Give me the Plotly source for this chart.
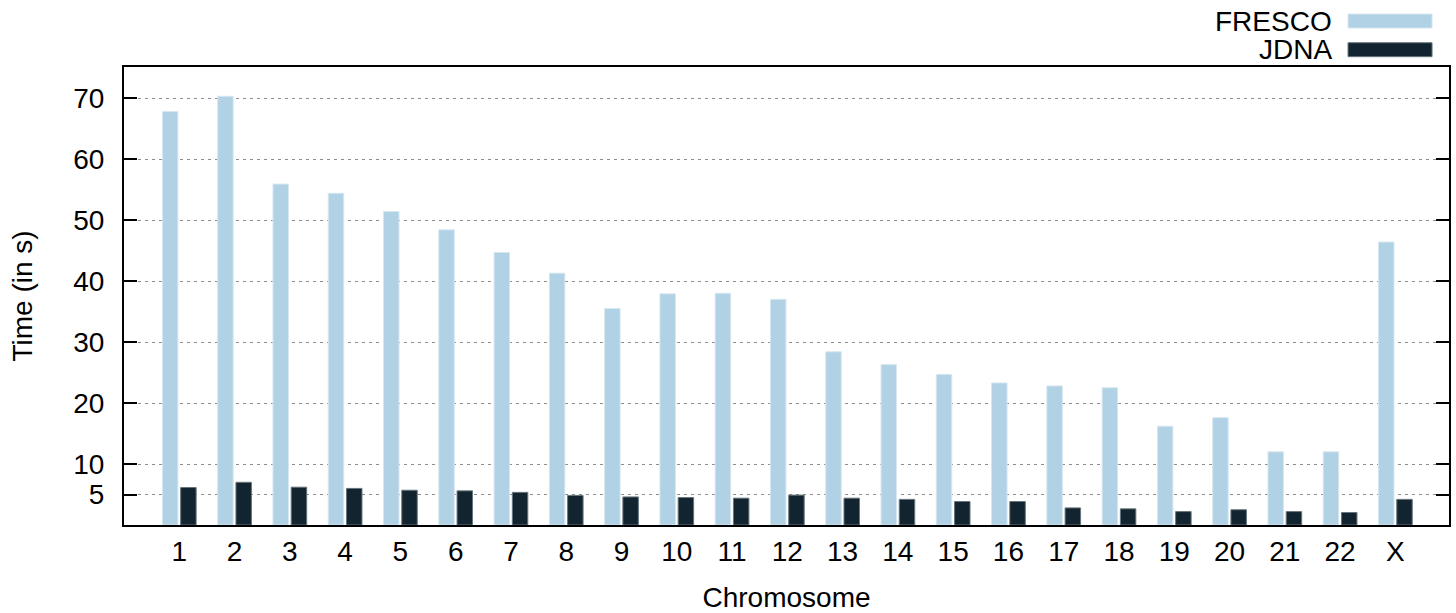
import plotly.graph_objects as go

# Chromosome run times (seconds)
chromosomes = ["1", "2", "3", "4", "5", "6", "7", "8", "9", "10", "11", "12",
               "13", "14", "15", "16", "17", "18", "19", "20", "21", "22", "X"]
fresco_time = [67.8, 70.3, 55.9, 54.4, 51.4, 48.4, 44.7, 41.3, 35.5, 37.9, 38.0, 37.0,
               28.4, 26.3, 24.7, 23.3, 22.8, 22.5, 16.2, 17.6, 12.0, 12.0, 46.4]
jdna_time = [6.15, 7.0, 6.2, 6.0, 5.7, 5.6, 5.35, 4.85, 4.6, 4.5, 4.4, 4.9,
             4.4, 4.2, 3.85, 3.85, 2.8, 2.65, 2.2, 2.5, 2.2, 2.05, 4.2]
y_ticks = [5, 10, 20, 30, 40, 50, 60, 70]

FRESCO_COLOR = "#b1d1e4"
FRESCO_EDGE = "#d6e7f1"
JDNA_COLOR = "#11242f"
JDNA_EDGE = "#66757c"
FONT = "Liberation Sans, Arial, sans-serif"
FS = 28

xpos = list(range(len(chromosomes)))

fig = go.Figure()
fig.add_trace(go.Bar(
    x=xpos, y=fresco_time, name="FRESCO",
    width=0.28, offset=-0.305,
    marker=dict(color=FRESCO_COLOR, line=dict(color=FRESCO_EDGE, width=1)),
    showlegend=False,
))
fig.add_trace(go.Bar(
    x=xpos, y=jdna_time, name="JDNA",
    width=0.28, offset=0.025,
    marker=dict(color=JDNA_COLOR, line=dict(color=JDNA_EDGE, width=1)),
    showlegend=False,
))

# gnuplot-style key: label on the left, colour sample on the right
key = [("FRESCO", FRESCO_COLOR, FRESCO_EDGE, 1.1156, 1.0851),
       ("JDNA", JDNA_COLOR, JDNA_EDGE, 1.0530, 1.0225)]
for label, fill, edge, y_top, y_bot in key:
    fig.add_shape(type="rect", xref="paper", yref="paper",
                  x0=0.9238, x1=0.9872, y0=y_bot, y1=y_top,
                  fillcolor=fill, line=dict(color=edge, width=1))
    fig.add_annotation(xref="paper", yref="paper", x=0.913, y=(y_top + y_bot) / 2,
                       text=label, showarrow=False, xanchor="right", yanchor="middle",
                       font=dict(family=FONT, size=FS, color="#000"))

fig.update_layout(
    width=1456, height=613,
    margin=dict(l=124, r=7, t=67, b=88),
    paper_bgcolor="white", plot_bgcolor="white",
    barmode="overlay",
    font=dict(family=FONT, size=FS, color="#000"),
)
fig.update_xaxes(
    range=[-1, 22.97], automargin=False,
    tickmode="array", tickvals=xpos, ticktext=chromosomes,
    ticks="", showgrid=False, zeroline=False,
    showline=True, linecolor="#000", linewidth=2, mirror=True,
    ticklabelstandoff=0,
    title=dict(text="Chromosome", standoff=22, font=dict(family=FONT, size=FS)),
    tickfont=dict(family=FONT, size=FS),
)
fig.update_yaxes(
    range=[0, 75.1], automargin=False,
    tickmode="array", tickvals=y_ticks,
    ticks="inside", ticklen=13, tickwidth=2, tickcolor="#000",
    showline=True, linecolor="#000", linewidth=2, mirror="ticks",
    showgrid=True, gridcolor="#8c8c8c", gridwidth=1, griddash="3px,4px",
    zeroline=False,
    ticklabelstandoff=12,
    title=dict(text="Time (in s)", standoff=32, font=dict(family=FONT, size=FS)),
    tickfont=dict(family=FONT, size=FS),
)

fig.write_html("out.html")
